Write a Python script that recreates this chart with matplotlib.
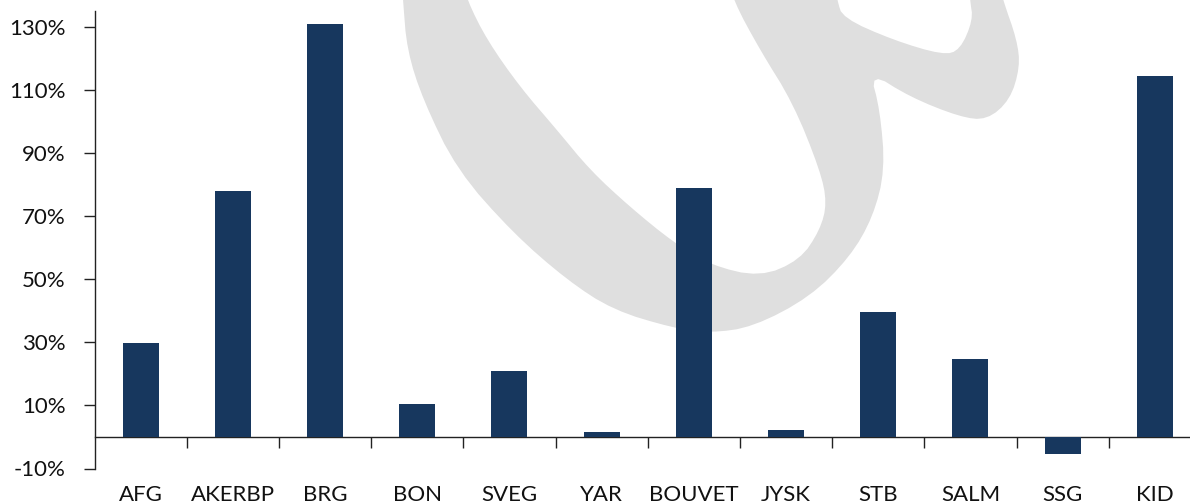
import numpy as np
import matplotlib.pyplot as plt
from matplotlib.patches import Polygon
from matplotlib.transforms import blended_transform_factory

plt.rcParams['font.family'] = ['Lato', 'DejaVu Sans']

tickers = ["AFG", "AKERBP", "BRG", "BON", "SVEG", "YAR", "BOUVET", "JYSK",
           "STB", "SALM", "SSG", "KID"]
returns = [29.7, 77.8, 130.8, 10.4, 20.9, 1.6, 79.0, 2.1, 39.7, 24.6, -5.4, 114.4]
yticks = [-10, 10, 30, 50, 70, 90, 110, 130]

W, H = 1190, 504
fig = plt.figure(figsize=(W / 100, H / 100), dpi=100)

# watermark outline, traced in image pixels (runs off the top edge)
mark = [(401, -30), (403, 0), (407, 50), (423, 100), (457, 170), (513, 233),
        (567, 280), (613, 310), (673, 328), (710, 333), (753, 327), (810, 297),
        (850, 257), (873, 217), (885, 170), (880, 110), (870, 72), (910, 97),
        (960, 117), (987, 120), (1010, 100), (1020, 67), (1017, 40), (1003, 0),
        (995, -30), (968, -30), (970, 0), (973, 20), (960, 50), (943, 55),
        (893, 40), (843, 18), (837, 0), (833, -30), (726, -30), (733, 0),
        (760, 50), (793, 103), (820, 170), (827, 203), (820, 230), (800, 260),
        (760, 277), (710, 265), (673, 242), (630, 207), (590, 170), (557, 130),
        (520, 87), (487, 40), (467, 0), (459, -30)]
pts = np.array(mark, dtype=float)
for _ in range(2):  # chaikin smoothing
    nxt = np.roll(pts, -1, axis=0)
    q = 0.75 * pts + 0.25 * nxt
    r = 0.25 * pts + 0.75 * nxt
    pts = np.column_stack([q, r]).reshape(-1, 2)
pts[:, 0] /= W
pts[:, 1] = 1 - pts[:, 1] / H
fig.add_artist(Polygon(pts, closed=True, facecolor="#dfdfdf", edgecolor="none",
                       transform=fig.transFigure, zorder=0))

left, right = 94.5 / W, 1201 / W
bottom, top = 1 - 468.5 / H, 1 - 11 / H
ax = fig.add_axes([left, bottom, right - left, top - bottom])
ax.set_facecolor("none")

x = np.arange(len(tickers))
ax.bar(x, returns, width=0.39, color="#17375e", zorder=3)

ax.set_xlim(-0.5, len(tickers) - 0.5)
ax.set_ylim(-10, 135)
ax.set_yticks(yticks)
ax.set_yticklabels([f"{v}%" for v in yticks])

ax.spines["top"].set_visible(False)
ax.spines["right"].set_visible(False)
ax.spines["bottom"].set_position(("data", 0))
for s in ("left", "bottom"):
    ax.spines[s].set_linewidth(1.0)
    ax.spines[s].set_color("#222222")

ax.set_xticks(np.arange(len(tickers)) + 0.5)
ax.set_xticklabels([])
ax.tick_params(axis="x", direction="out", length=8, width=1.0, color="#222222")
ax.tick_params(axis="y", direction="out", length=8, width=1.0, color="#222222",
               pad=13, labelsize=16, labelcolor="#111111")

trans = blended_transform_factory(ax.transData, fig.transFigure)
for i, t in enumerate(tickers):
    ax.text(i, 1 - 495 / H, t, transform=trans, ha="center", va="center",
            fontsize=16, color="#111111", clip_on=False)

fig.savefig("out.png", dpi=100)
